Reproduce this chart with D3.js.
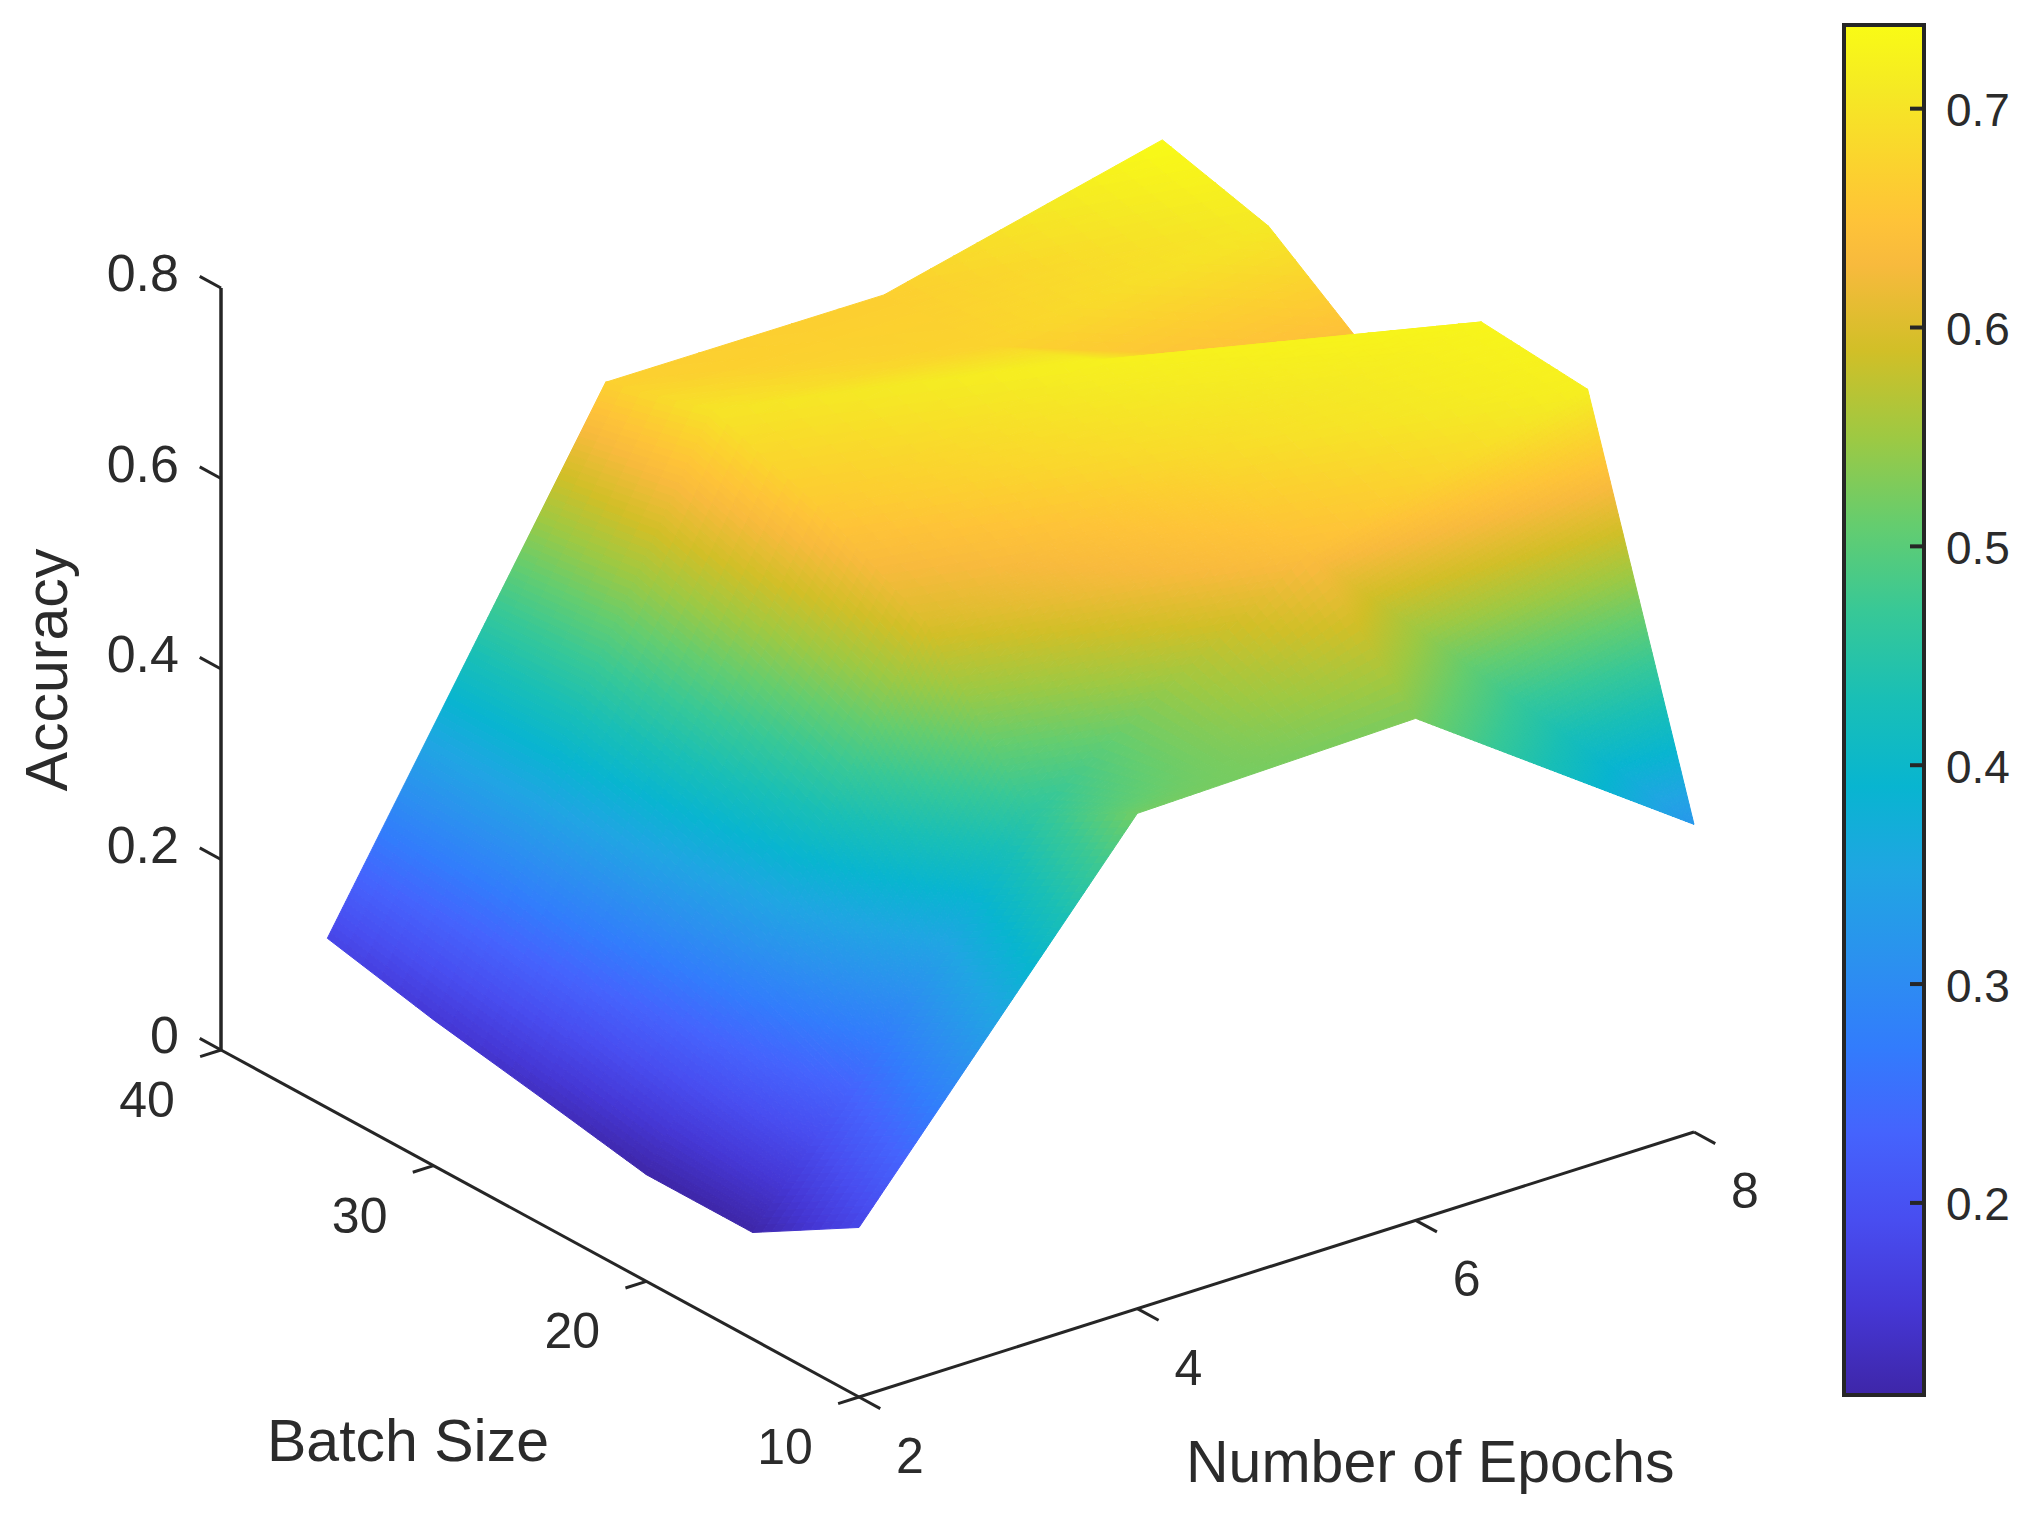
<!DOCTYPE html>
<html>
<head>
<meta charset="utf-8">
<script src="https://cdn.jsdelivr.net/npm/d3@7"></script>
<style>
    html, body { margin: 0; padding: 0; background: #fff; }
    svg { display: block; }
    text { font-family: "Liberation Sans", Arial, sans-serif; fill: #2b2b2b; }
</style>
</head>
<body>
<svg id="main-chart"></svg>
<script>
// accuracy surface, batch size vs epochs

const epochs = [2, 4, 6, 8];
const batches = [35, 30, 25, 20, 15, 10];

// one row per batch size, one value per epoch count
const acc35 = [0.178, 0.669, 0.668, 0.738];
const acc30 = [0.153, 0.700, 0.675, 0.708];
const acc25 = [0.133, 0.660, 0.721, 0.627];
const acc20 = [0.112, 0.600, 0.690, 0.729];
const acc15 = [0.112, 0.455, 0.640, 0.719];
const acc10 = [0.178, 0.520, 0.527, 0.323];
const accuracy = [acc35, acc30, acc25, acc20, acc15, acc10];

const zTicks = [0, 0.2, 0.4, 0.6, 0.8];
const batchTicks = [40, 30, 20, 10];
const epochTicks = [2, 4, 6, 8];
const colorbarTicks = [0.2, 0.3, 0.4, 0.5, 0.6, 0.7];
const colorLimits = [0.112, 0.738];

// parula, every few rows
const parula = ["#3e26a8", "#4537d5", "#484df0", "#4563fd", "#327cfc", "#2b91ef",
    "#20a5e3", "#08b5d0", "#19bfb6", "#37c897", "#64cd6f", "#9dc943", "#d1bf27",
    "#f8ba3d", "#fec338", "#fccf30", "#f5e924", "#f9fb15"];
const parulaPos = [0, 4, 8, 12, 16, 20, 24, 28, 32, 36, 40, 44, 48, 52, 54, 56, 60, 63];

const chartW = 2032,
    chartH = 1524,
    inkColor = "#262626",
    levelStep = 0.006;

var chart = d3.select("#main-chart")
    .attr("width", chartW)
    .attr("height", chartH);

// Scales for the 3d projection, each one gives a screen offset
var batchX = d3.scaleLinear().domain([40, 10]).range([221, 859]);
var batchY = d3.scaleLinear().domain([40, 10]).range([1050, 1397]);
var epochX = d3.scaleLinear().domain([2, 8]).range([0, 835]);
var epochY = d3.scaleLinear().domain([2, 8]).range([0, -265]);
var zY = d3.scaleLinear().domain([0, 0.8]).range([0, -762]);

var levelColor = d3.scaleLinear()
    .domain(parulaPos.map(function(d) {return colorLimits[0] + (colorLimits[1] - colorLimits[0]) * d / 63;}))
    .range(parula)
    .clamp(true);

function project(p) {
    return [batchX(p.b) + epochX(p.e), batchY(p.b) + epochY(p.e) + zY(p.z)];
}

// Most cells fold on the diagonal. First epoch column and the almost edge-on front cell stay bilinear
function isFolded(i, j) {
    return !(i === 0 || (i === 1 && j === 4));
}

function patchPoint(i, j, u, v) {
    var z00 = accuracy[j][i], z10 = accuracy[j][i + 1],
        z01 = accuracy[j + 1][i], z11 = accuracy[j + 1][i + 1], z;
    if (!isFolded(i, j)) {
        z = (z00 * (1 - u) + z10 * u) * (1 - v) + (z01 * (1 - u) + z11 * u) * v;
    } else if (u >= v) {
        z = z00 + u * (z10 - z00) + v * (z11 - z10);
    } else {
        z = z00 + v * (z01 - z00) + u * (z11 - z01);
    }
    return {
        e: epochs[i] + (epochs[i + 1] - epochs[i]) * u,
        b: batches[j] + (batches[j + 1] - batches[j]) * v,
        z: z
    };
}

// Small facets for the interpolated shading, more of them where the value changes fast
var cells = [];
for (var j = 0; j < batches.length - 1; j++) {
    for (var i = 0; i < epochs.length - 1; i++) {
        var dzE = Math.max(Math.abs(accuracy[j][i + 1] - accuracy[j][i]), Math.abs(accuracy[j + 1][i + 1] - accuracy[j + 1][i]));
        var dzB = Math.max(Math.abs(accuracy[j + 1][i] - accuracy[j][i]), Math.abs(accuracy[j + 1][i + 1] - accuracy[j][i + 1]));
        var nE = Math.max(6, Math.ceil(dzE / levelStep));
        var nB = Math.max(6, Math.ceil(dzB / levelStep));
        if (isFolded(i, j)) {
            nE = nB = Math.max(nE, nB);
        }
        for (var a = 0; a < nE; a++) {
            for (var c = 0; c < nB; c++) {
                var p00 = patchPoint(i, j, a / nE, c / nB),
                    p10 = patchPoint(i, j, (a + 1) / nE, c / nB),
                    p11 = patchPoint(i, j, (a + 1) / nE, (c + 1) / nB),
                    p01 = patchPoint(i, j, a / nE, (c + 1) / nB);
                if (!isFolded(i, j)) {
                    cells.push([p00, p10, p11, p01]);
                } else {
                    cells.push([p00, p10, p11]);
                    cells.push([p00, p11, p01]);
                }
            }
        }
    }
}

function groundY(t) {
    return d3.mean(t, function(p) {return batchY(p.b) + epochY(p.e);});
}

// far facets first
cells.sort(function(s, t) {return groundY(s) - groundY(t);});

var cellPath = d3.line()
    .x(function(p) {return project(p)[0];})
    .y(function(p) {return project(p)[1];});

function cellColor(t) {
    return levelColor(d3.mean(t, function(p) {return p.z;}));
}

chart.append("g")
    .attr("class", "surface")
    .selectAll("path")
    .data(cells)
    .enter()
    .append("path")
    .attr("d", function(d) {return cellPath(d) + "Z";})
    .attr("fill", cellColor)
    .attr("stroke", cellColor)
    .attr("stroke-width", 1)
    .attr("stroke-linejoin", "round");

// Axes
var axes = chart.append("g")
    .attr("stroke", inkColor)
    .attr("fill", "none");

function axisLine(from, to, w) {
    var p = project(from), q = project(to);
    axes.append("line")
        .attr("x1", p[0]).attr("y1", p[1])
        .attr("x2", q[0]).attr("y2", q[1])
        .attr("stroke-width", w);
}

axisLine({e: 2, b: 40, z: 0}, {e: 2, b: 40, z: 0.8}, 3.5);
axisLine({e: 2, b: 40, z: 0}, {e: 2, b: 10, z: 0}, 3);
axisLine({e: 2, b: 10, z: 0}, {e: 8, b: 10, z: 0}, 3);

zTicks.forEach(function(d) {
    axisLine({e: 2, b: 40, z: d}, {e: 2, b: 41, z: d}, 3);
    var p = project({e: 2, b: 40, z: d});
    chart.append("text")
        .attr("x", 179)
        .attr("y", p[1] + 3)
        .attr("text-anchor", "end")
        .attr("font-size", 52)
        .text(d);
});

batchTicks.forEach(function(d) {
    axisLine({e: 2, b: d, z: 0}, {e: 1.85, b: d, z: 0}, 3);
    var p = project({e: 2, b: d, z: 0});
    chart.append("text")
        .attr("x", p[0] - 74)
        .attr("y", p[1] + 67)
        .attr("text-anchor", "middle")
        .attr("font-size", 50)
        .text(d);
});

epochTicks.forEach(function(d) {
    axisLine({e: d, b: 10, z: 0}, {e: d, b: 9, z: 0}, 3);
    var p = project({e: d, b: 10, z: 0});
    chart.append("text")
        .attr("x", p[0] + 51)
        .attr("y", p[1] + 76)
        .attr("text-anchor", "middle")
        .attr("font-size", 50)
        .text(d);
});

chart.append("text")
    .attr("x", 267)
    .attr("y", 1461)
    .attr("font-size", 59)
    .text("Batch Size");
chart.append("text")
    .attr("x", 1186)
    .attr("y", 1482)
    .attr("font-size", 59)
    .text("Number of Epochs");
chart.append("text")
    .attr("transform", "translate(67,670) rotate(-90)")
    .attr("text-anchor", "middle")
    .attr("font-size", 59)
    .text("Accuracy");

// Colorbar
var barScale = d3.scaleLinear().domain(colorLimits).range([1395, 25]);

var grad = chart.append("defs")
    .append("linearGradient")
    .attr("id", "bar-gradient")
    .attr("x1", 0).attr("y1", 1).attr("x2", 0).attr("y2", 0);
grad.selectAll("stop")
    .data(parula)
    .enter()
    .append("stop")
    .attr("offset", function(d, k) {return parulaPos[k] / 63;})
    .attr("stop-color", function(d) {return d;});

chart.append("rect")
    .attr("x", 1844)
    .attr("y", 25)
    .attr("width", 80)
    .attr("height", 1370)
    .attr("fill", "url(#bar-gradient)")
    .attr("stroke", inkColor)
    .attr("stroke-width", 4);

var barAxis = d3.axisRight(barScale)
    .tickValues(colorbarTicks)
    .tickSize(-14)
    .tickPadding(22)
    .tickFormat(d3.format(".1f"));

var barG = chart.append("g")
    .attr("transform", "translate(1924,0)")
    .call(barAxis);
barG.select(".domain").remove();
barG.selectAll(".tick line").attr("stroke", inkColor).attr("stroke-width", 4);
barG.selectAll(".tick text")
    .attr("font-size", 46)
    .attr("font-family", "Liberation Sans")
    .attr("fill", "#2b2b2b")
    .attr("dy", "0.38em");
</script>
</body>
</html>
